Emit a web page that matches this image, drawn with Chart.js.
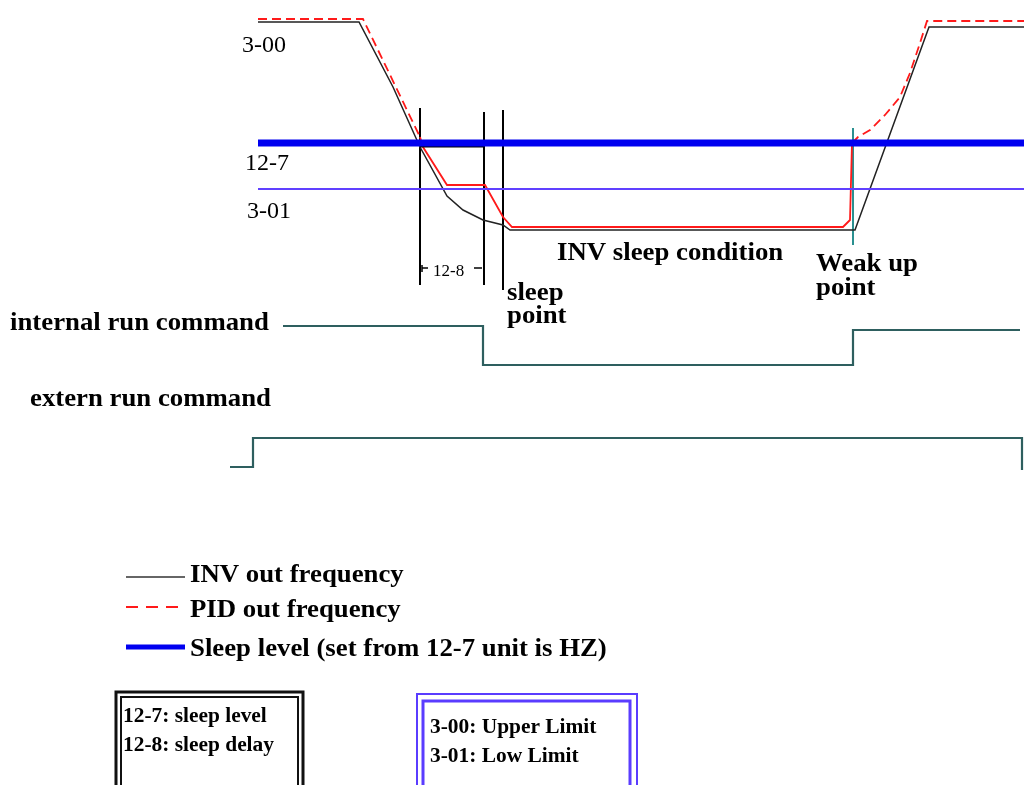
<!DOCTYPE html>
<html>
<head>
<meta charset="utf-8">
<script src="https://cdn.jsdelivr.net/npm/chart.js@4/dist/chart.umd.min.js"></script>
<style>
  html, body { margin: 0; padding: 0; background: #fff; }
  #wrap { width: 1024px; height: 785px; }
</style>
</head>
<body>
<div id="wrap"><canvas id="c" width="1024" height="785"></canvas></div>
<script>
// time axis runs left to right, level axis runs top (high) to bottom (low)
const invX = [258, 359, 393, 420, 447, 463, 483, 503, 510, 855, 929, 1024];
const invY = [22, 22, 87, 147, 196, 210, 220, 225, 230, 230, 27, 27];

const pidX = [258, 363, 420, 423, 447, 485, 503, 512, 843, 850, 852, 858, 870, 885, 900, 910, 920, 927, 1024];
const pidY = [19, 19, 137, 147, 185, 185, 217, 227, 227, 220, 143, 137, 130, 115, 97, 73, 43, 21, 21];

const sleepLevelX = [258, 1024];
const sleepLevelY = [143, 143];
const lowLimitX = [258, 1024];
const lowLimitY = [189, 189];
const delayBarX = [420, 484];
const delayBarY = [146, 146];

// markers: [x, yTop, yBottom]
const markers = [[420, 108, 285], [484, 112, 285], [503, 110, 290]];
const wakeMarker = [853, 128, 245];

const internalX = [283, 483, 483, 853, 853, 1020];
const internalY = [326, 326, 365, 365, 330, 330];
const externX = [230, 253, 253, 1022, 1022];
const externY = [467, 467, 438, 438, 470];

const legendX = [126, 185];
const legendY = [577, 607, 647];
const legendTextY = [582, 617, 656];
const legendLabels = ['INV out frequency', 'PID out frequency', 'Sleep level (set from 12-7 unit is HZ)'];

const levelLabels = [['3-00', 242, 52], ['12-7', 245, 170], ['3-01', 247, 218]];
const noteLabels = [
  ['INV sleep condition', 557, 260],
  ['Weak up', 816, 271], ['point', 816, 295],
  ['sleep', 507, 300], ['point', 507, 323],
  ['internal run command', 10, 330],
  ['extern run command', 30, 406]
];
const boxA = { x0: 116, x1: 303, y0: 692, lines: ['12-7: sleep level', '12-8: sleep delay'], tx: 123, ty: [722, 751] };
const boxB = { x0: 417, x1: 637, y0: 694, lines: ['3-00: Upper Limit', '3-01: Low Limit'], tx: 430, ty: [733, 762] };

const pts = (xs, ys) => xs.map((x, i) => ({ x: x, y: ys[i] }));
const teal = '#2e5f5f';

const datasets = [
  { data: pts(sleepLevelX, sleepLevelY), borderColor: '#0000f0', borderWidth: 7 },
  { data: pts(lowLimitX, lowLimitY), borderColor: '#6040ff', borderWidth: 2 },
  { data: pts(delayBarX, delayBarY), borderColor: '#000', borderWidth: 3 },
  { data: pts(invX, invY), borderColor: '#222', borderWidth: 1.5 },
  { data: pts(pidX, pidY), borderColor: '#ff1a1a', borderWidth: 1.8,
    segment: { borderDash: ctx => (ctx.p0.parsed.x < 420 || ctx.p0.parsed.x >= 852) ? [9, 5] : [] } },
  { data: pts(internalX, internalY), borderColor: teal, borderWidth: 2.2 },
  { data: pts(externX, externY), borderColor: teal, borderWidth: 2.2 },
  { data: [{ x: wakeMarker[0], y: wakeMarker[1] }, { x: wakeMarker[0], y: wakeMarker[2] }], borderColor: '#2a9090', borderWidth: 2 },
  { data: pts(legendX, [legendY[0], legendY[0]]), borderColor: '#333', borderWidth: 1.5 },
  { data: pts(legendX, [legendY[1], legendY[1]]), borderColor: '#ff1a1a', borderWidth: 2, borderDash: [12, 8] },
  { data: pts(legendX, [legendY[2], legendY[2]]), borderColor: '#0000f0', borderWidth: 5 }
];
markers.forEach(m => datasets.push({ data: [{ x: m[0], y: m[1] }, { x: m[0], y: m[2] }], borderColor: '#000', borderWidth: 2 }));
// 12-8 bracket
datasets.push({ data: [{ x: 422, y: 265 }, { x: 422, y: 272 }], borderColor: '#000', borderWidth: 1.5 });
datasets.push({ data: [{ x: 422, y: 268 }, { x: 428, y: 268 }], borderColor: '#000', borderWidth: 1.5 });
datasets.push({ data: [{ x: 474, y: 268 }, { x: 482, y: 268 }], borderColor: '#000', borderWidth: 1.5 });

const textPlugin = {
  id: 'texts',
  afterDatasetsDraw(chart) {
    const c = chart.ctx, sx = chart.scales.x, sy = chart.scales.y;
    const X = v => sx.getPixelForValue(v), Y = v => sy.getPixelForValue(v);
    // the source type face is a little wider than Liberation Serif
    const put = (t, x, y, stretch) => {
      c.save(); c.translate(x, y); c.scale(stretch, 1); c.fillText(t, 0, 0); c.restore();
    };
    c.save();
    c.fillStyle = '#000';
    c.textBaseline = 'alphabetic';
    c.font = '24px "Liberation Serif"';
    levelLabels.forEach(l => c.fillText(l[0], X(l[1]), Y(l[2])));
    c.font = '17px "Liberation Serif"';
    c.fillText('12-8', X(433), Y(276));
    c.font = 'bold 26px "Liberation Serif"';
    noteLabels.forEach(l => put(l[0], X(l[1]), Y(l[2]), 1.03));
    legendLabels.forEach((t, i) => put(t, X(190), Y(legendTextY[i]), 1.03));

    // boxes
    const bottom = Y(800);
    c.strokeStyle = '#111';
    c.lineWidth = 3;
    c.strokeRect(X(boxA.x0), Y(boxA.y0), X(boxA.x1) - X(boxA.x0), bottom - Y(boxA.y0));
    c.lineWidth = 2;
    c.strokeRect(X(boxA.x0 + 5), Y(boxA.y0 + 5), X(boxA.x1 - 5) - X(boxA.x0 + 5), bottom - Y(boxA.y0 + 5));
    c.strokeStyle = '#5a3cff';
    c.lineWidth = 2;
    c.strokeRect(X(boxB.x0), Y(boxB.y0), X(boxB.x1) - X(boxB.x0), bottom - Y(boxB.y0));
    c.lineWidth = 3;
    c.strokeRect(X(boxB.x0 + 6), Y(boxB.y0 + 7), X(boxB.x1 - 7) - X(boxB.x0 + 6), bottom - Y(boxB.y0 + 7));
    c.fillStyle = '#000';
    c.font = 'bold 20px "Liberation Serif"';
    [boxA, boxB].forEach(b => b.lines.forEach((t, i) => put(t, X(b.tx), Y(b.ty[i]), 1.07)));
    c.restore();
  }
};

new Chart(document.getElementById('c'), {
  type: 'scatter',
  data: { datasets: datasets.map(d => Object.assign({ showLine: true, pointRadius: 0, fill: false, tension: 0 }, d)) },
  options: {
    responsive: false,
    animation: false,
    layout: { padding: 0 },
    plugins: { legend: { display: false }, tooltip: { enabled: false } },
    scales: {
      x: { type: 'linear', min: 0, max: 1024, display: false },
      y: { type: 'linear', min: 0, max: 785, reverse: true, display: false }
    }
  },
  plugins: [textPlugin]
});
</script>
</body>
</html>
